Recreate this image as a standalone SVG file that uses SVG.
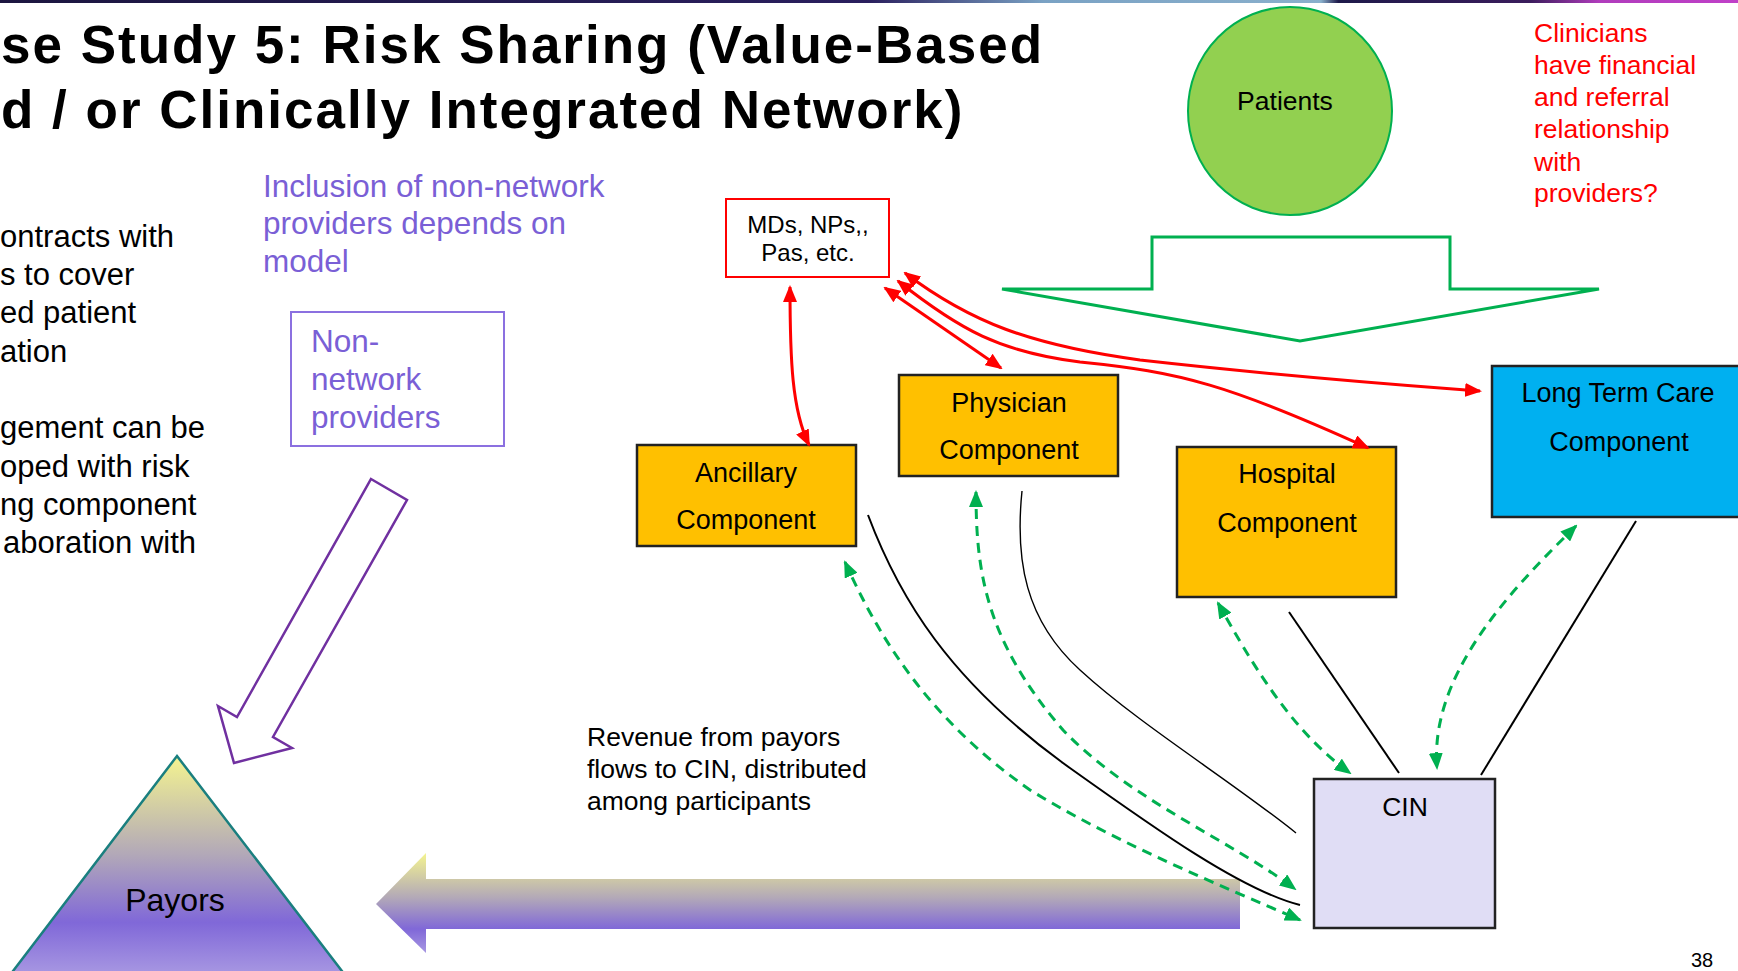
<svg xmlns="http://www.w3.org/2000/svg" width="1738" height="971" viewBox="0 0 1738 971">
<style>
text{font-family:"Liberation Sans",Arial,sans-serif;}
.title{font-size:53px;font-weight:bold;fill:#000;letter-spacing:2px;}
.body{font-size:31px;fill:#000;}
.purple{font-size:31.5px;fill:#7A5FD6;}
.comp{font-size:27px;fill:#000;text-anchor:middle;}
.small{font-size:26.5px;fill:#000;}
.red{font-size:26.5px;fill:#FF0000;}
.box{stroke:#222;stroke-width:2.5;}
.redln{fill:none;stroke:#FF0000;stroke-width:3;marker-start:url(#rh);marker-end:url(#rh);}
.grn{fill:none;stroke:#00B050;stroke-width:3;stroke-dasharray:10 7;marker-start:url(#gh);marker-end:url(#gh);}
.blk{fill:none;stroke:#000;}
</style>
<defs>
<marker id="rh" viewBox="0 0 17 14" refX="15" refY="7" markerWidth="17" markerHeight="14" markerUnits="userSpaceOnUse" orient="auto-start-reverse">
<path d="M0,0 L17,7 L0,14 Z" fill="#FF0000"/>
</marker>
<marker id="gh" viewBox="0 0 17 14" refX="15" refY="7" markerWidth="17" markerHeight="14" markerUnits="userSpaceOnUse" orient="auto-start-reverse">
<path d="M0,0 L17,7 L0,14 Z" fill="#00B050"/>
</marker>
<linearGradient id="topbar" x1="0" y1="0" x2="1" y2="0">
<stop offset="0" stop-color="#1c1640"/>
<stop offset="0.5" stop-color="#2a1f5e"/>
<stop offset="0.6" stop-color="#7aa2c4"/>
<stop offset="0.76" stop-color="#8ab0cc"/>
<stop offset="0.77" stop-color="#1e1a4a"/>
<stop offset="0.88" stop-color="#3a1c5c"/>
<stop offset="0.92" stop-color="#b03cbc"/>
<stop offset="1" stop-color="#c040c8"/>
</linearGradient>
<linearGradient id="pay" x1="0" y1="0" x2="0" y2="1">
<stop offset="0" stop-color="#F4F490"/>
<stop offset="0.45" stop-color="#B2A8B8"/>
<stop offset="0.76" stop-color="#8068D8"/>
<stop offset="1" stop-color="#A898E2"/>
</linearGradient>
</defs>
<rect x="0" y="0" width="1738" height="971" fill="#FFFFFF"/>
<rect x="0" y="0" width="1738" height="3" fill="url(#topbar)"/>

<g id="title">
<text class="title" x="1" y="63">se Study 5: Risk Sharing (Value-Based</text>
<text class="title" x="1" y="128">d / or Clinically Integrated Network)</text>
</g>

<g id="left-text">
<text class="body" x="0" y="247">ontracts with</text>
<text class="body" x="0" y="285">s to cover</text>
<text class="body" x="0" y="323">ed patient</text>
<text class="body" x="0" y="362">ation</text>
<text class="body" x="0" y="438">gement can be</text>
<text class="body" x="0" y="477">oped with risk</text>
<text class="body" x="0" y="515">ng component</text>
<text class="body" x="3" y="553">aboration with</text>
</g>

<g id="inclusion-note">
<text class="purple" x="263" y="197">Inclusion of non-network</text>
<text class="purple" x="263" y="234">providers depends on</text>
<text class="purple" x="263" y="272">model</text>
</g>

<g id="non-network">
<rect x="291" y="312" width="213" height="134" fill="#FFFFFF" stroke="#8B70E0" stroke-width="2"/>
<text class="purple" x="311" y="352">Non-</text>
<text class="purple" x="311" y="390">network</text>
<text class="purple" x="311" y="428">providers</text>
</g>

<g id="nonnetwork-arrow">
<polygon points="371,479 407,500 273,737 292,748 234,763 218,706 237,717" fill="#FFFFFF" stroke="#7030A0" stroke-width="2.5" stroke-linejoin="miter"/>
</g>

<g id="payors">
<polygon points="177,756 345,975 10,975" fill="url(#pay)" stroke="#1A7F7F" stroke-width="2.5"/>
<text x="175" y="911" text-anchor="middle" style="font-size:32px;fill:#000;">Payors</text>
</g>

<g id="revenue-arrow">
<polygon points="376,904 426,853 426,879 1240,879 1240,929 426,929 426,953" fill="url(#pay)"/>
</g>

<g id="revenue-text">
<text class="small" x="587" y="746">Revenue from payors</text>
<text class="small" x="587" y="778">flows to CIN, distributed</text>
<text class="small" x="587" y="810">among participants</text>
</g>

<g id="patients">
<ellipse cx="1290" cy="111" rx="102" ry="104" fill="#92D050" stroke="#00B050" stroke-width="2"/>
<text x="1285" y="110" text-anchor="middle" style="font-size:26.5px;fill:#000;">Patients</text>
</g>

<g id="patients-arrow">
<polygon points="1152,237 1450,237 1450,289 1599,289 1300,341 1002,289 1152,289" fill="none" stroke="#00B050" stroke-width="3"/>
</g>

<g id="clinicians-note">
<text class="red" x="1534" y="42">Clinicians</text>
<text class="red" x="1534" y="74">have financial</text>
<text class="red" x="1534" y="106">and referral</text>
<text class="red" x="1534" y="138">relationship</text>
<text class="red" x="1534" y="171">with</text>
<text class="red" x="1534" y="202">providers?</text>
</g>

<g id="mds">
<rect x="726" y="199" width="163" height="78" fill="#FFFFFF" stroke="#FF0000" stroke-width="2"/>
<text x="808" y="233" text-anchor="middle" style="font-size:24px;fill:#000;">MDs, NPs,,</text>
<text x="808" y="261" text-anchor="middle" style="font-size:24px;fill:#000;">Pas, etc.</text>
</g>

<g id="ancillary">
<rect class="box" x="637" y="445" width="219" height="101" fill="#FFC000"/>
<text class="comp" x="746" y="482">Ancillary</text>
<text class="comp" x="746" y="529">Component</text>
</g>

<g id="physician">
<rect class="box" x="899" y="375" width="219" height="101" fill="#FFC000"/>
<text class="comp" x="1009" y="412">Physician</text>
<text class="comp" x="1009" y="459">Component</text>
</g>

<g id="hospital">
<rect class="box" x="1177" y="447" width="219" height="150" fill="#FFC000"/>
<text class="comp" x="1287" y="483">Hospital</text>
<text class="comp" x="1287" y="532">Component</text>
</g>

<g id="longterm">
<rect class="box" x="1492" y="366" width="260" height="151" fill="#00B0F0"/>
<text class="comp" x="1618" y="402">Long Term Care</text>
<text class="comp" x="1619" y="451">Component</text>
</g>

<g id="cin">
<rect class="box" x="1314" y="779" width="181" height="149" fill="#E0DDF5"/>
<text x="1405" y="816" text-anchor="middle" style="font-size:26.5px;fill:#000;">CIN</text>
</g>

<g id="connectors">
<path class="redln" d="M790,287 C790,360 792,410 809,445"/>
<path class="redln" d="M885,288 L1001,368"/>
<path class="redln" d="M898,281 C960,330 1000,352 1080,362 C1180,372 1230,385 1368,448"/>
<path class="redln" d="M905,273 C970,322 1030,345 1140,360 C1300,378 1400,385 1480,391"/>

<path class="blk" stroke-width="2" d="M868,515 C900,600 950,680 1063,763 C1150,825 1240,890 1300,905"/>
<path class="blk" stroke-width="1.4" d="M1022,491 C1015,560 1025,620 1080,670 C1140,725 1230,780 1296,833"/>
<path class="blk" stroke-width="2" d="M1289,612 L1399,773"/>
<path class="blk" stroke-width="2" d="M1636,521 L1481,775"/>

<path class="grn" d="M845,562 C880,640 930,720 1030,790 C1120,845 1220,885 1300,920"/>
<path class="grn" d="M976,492 C976,570 985,640 1063,730 C1130,800 1230,840 1295,889"/>
<path class="grn" d="M1218,603 C1250,660 1290,730 1350,773"/>
<path class="grn" d="M1576,526 C1500,600 1430,680 1437,768"/>
</g>

<text x="1702" y="967" text-anchor="middle" style="font-size:20px;fill:#000;">38</text>
</svg>
